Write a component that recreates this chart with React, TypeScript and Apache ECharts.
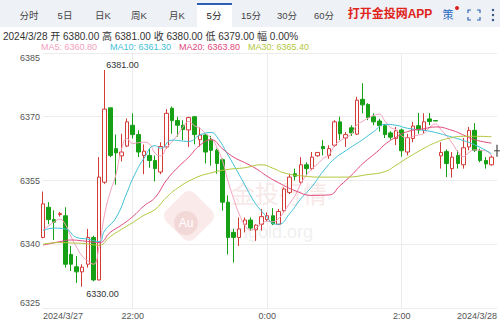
import React, { useEffect, useRef } from "react";
import * as echarts from "echarts";

// 5-minute slots from 2024/3/27 20:40 to 2024/3/28 03:25 (last slot still empty)
const timeSlots: string[] = [
  "20:40", "20:45", "20:50", "20:55",
  "21:00", "21:05", "21:10", "21:15", "21:20", "21:25", "21:30", "21:35", "21:40", "21:45", "21:50", "21:55",
  "22:00", "22:05", "22:10", "22:15", "22:20", "22:25", "22:30", "22:35", "22:40", "22:45", "22:50", "22:55",
  "23:00", "23:05", "23:10", "23:15", "23:20", "23:25", "23:30", "23:35", "23:40", "23:45", "23:50", "23:55",
  "0:00", "0:05", "0:10", "0:15", "0:20", "0:25", "0:30", "0:35", "0:40", "0:45", "0:50", "0:55",
  "1:00", "1:05", "1:10", "1:15", "1:20", "1:25", "1:30", "1:35", "1:40", "1:45", "1:50", "1:55",
  "2:00", "2:05", "2:10", "2:15", "2:20", "2:25", "2:30", "2:35", "2:40", "2:45", "2:50", "2:55",
  "3:00", "3:05", "3:10", "3:15", "3:20", "3:25",
];

// Axis tick labels keyed by slot index
const xTickLabels: Record<number, string> = {
  0: "2024/3/27",
  16: "22:00",
  40: "0:00",
  64: "2:00",
  81: "2024/3/28",
};
const xGridSlots = [16, 40, 64];

const openPrices = [
  6341.6, 6348.7, 6345.8, 6347.0, 6346.7, 6337.6, 6334.7, 6333.5, 6335.3, 6341.6,
  6331.6, 6354.6, 6372.1, 6362.5, 6360.8, 6363.1, 6368.0, 6365.8, 6360.9, 6360.9,
  6359.7, 6357.0, 6362.9, 6372.0, 6369.1, 6368.0, 6366.9, 6370.0, 6364.6, 6365.7,
  6364.5, 6362.1, 6359.9, 6349.9, 6342.8, 6341.6, 6344.7, 6345.7, 6343.4, 6344.7,
  6345.8, 6346.7, 6344.7, 6347.9, 6352.2, 6356.6, 6354.6, 6358.7, 6357.8, 6360.8,
  6363.0, 6360.9, 6363.3, 6368.8, 6365.0, 6367.4, 6365.9, 6374.1, 6372.9, 6370.0,
  6369.0, 6367.9, 6366.2, 6364.9, 6366.9, 6361.7, 6364.9, 6367.9, 6366.8, 6369.5,
  6369.1, 6360.8, 6361.8, 6357.8, 6360.9, 6358.7, 6362.9, 6366.8, 6362.0, 6359.7,
  6358.7,
];
const closePrices = [
  6349.5, 6345.8, 6345.2, 6347.2, 6335.3, 6335.3, 6333.5, 6334.6, 6341.6, 6331.6,
  6355.8, 6371.8, 6360.9, 6361.5, 6361.7, 6368.8, 6365.8, 6361.7, 6361.9, 6359.7,
  6357.8, 6363.0, 6370.8, 6369.1, 6368.0, 6367.0, 6369.8, 6365.8, 6365.7, 6361.7,
  6362.1, 6359.0, 6349.9, 6341.6, 6341.6, 6343.6, 6345.7, 6343.8, 6344.5, 6346.5,
  6346.7, 6344.8, 6347.7, 6353.0, 6355.8, 6356.0, 6358.7, 6357.8, 6360.5, 6361.6,
  6362.5, 6362.5, 6368.8, 6366.0, 6365.8, 6366.2, 6373.9, 6372.8, 6369.8, 6368.8,
  6367.9, 6365.8, 6365.2, 6366.7, 6362.0, 6365.1, 6367.8, 6366.9, 6368.8, 6368.9,
  6369.0, 6361.6, 6359.0, 6360.5, 6359.0, 6362.7, 6366.8, 6362.1, 6359.7, 6358.9,
  6360.5,
];
const lowPrices = [
  6341.4, 6344.7, 6341.0, 6346.5, 6334.5, 6333.7, 6330.9, 6330.0, 6334.5, 6331.3,
  6331.5, 6354.2, 6360.5, 6354.0, 6359.5, 6362.9, 6364.9, 6360.5, 6356.5, 6358.0,
  6354.8, 6356.5, 6362.5, 6366.0, 6365.3, 6364.5, 6362.9, 6363.5, 6363.0, 6359.0,
  6358.5, 6356.6, 6347.9, 6337.6, 6335.7, 6339.6, 6342.8, 6343.2, 6340.8, 6343.2,
  6345.5, 6344.5, 6344.5, 6347.5, 6351.8, 6355.0, 6354.2, 6356.2, 6357.4, 6360.6,
  6360.9, 6360.1, 6362.9, 6364.5, 6362.9, 6365.5, 6365.7, 6370.8, 6369.2, 6368.0,
  6366.5, 6365.0, 6364.6, 6363.3, 6360.6, 6360.9, 6364.0, 6366.0, 6366.0, 6368.0,
  6369.0, 6357.8, 6355.8, 6355.7, 6357.8, 6357.8, 6362.1, 6361.7, 6359.3, 6357.8,
  6358.5,
];
const highPrices = [
  6352.4, 6349.9, 6348.0, 6347.6, 6348.7, 6339.6, 6337.2, 6335.3, 6343.6, 6342.0,
  6360.5, 6381.0, 6372.1, 6365.8, 6366.0, 6369.6, 6370.8, 6366.8, 6363.5, 6362.5,
  6360.9, 6364.0, 6371.8, 6372.4, 6370.0, 6369.2, 6370.0, 6370.2, 6367.5, 6366.0,
  6365.5, 6362.5, 6360.2, 6351.5, 6343.6, 6346.3, 6346.3, 6346.3, 6344.7, 6348.3,
  6347.5, 6348.5, 6348.3, 6353.4, 6356.6, 6357.8, 6360.5, 6359.3, 6361.7, 6361.7,
  6364.5, 6363.3, 6369.2, 6370.0, 6366.4, 6368.0, 6374.7, 6377.9, 6373.2, 6370.8,
  6369.5, 6368.3, 6366.6, 6367.6, 6367.2, 6366.0, 6368.8, 6370.9, 6370.8, 6370.9,
  6369.1, 6364.0, 6362.3, 6361.7, 6362.1, 6365.0, 6367.6, 6368.5, 6362.5, 6360.5,
  6360.9,
];

const ma5 = [
  6343.3, 6344.3, 6345.3, 6345.9, 6344.6, 6341.8, 6339.3, 6337.2, 6336.1, 6335.3,
  6339.4, 6347.1, 6352.3, 6356.3, 6362.3, 6364.9, 6363.7, 6363.9, 6364.0, 6363.6,
  6361.4, 6360.8, 6362.6, 6364.1, 6365.7, 6367.6, 6368.9, 6367.9, 6367.3, 6366.0,
  6365.0, 6362.9, 6359.7, 6354.9, 6350.8, 6347.1, 6344.5, 6343.3, 6343.8, 6344.8,
  6345.4, 6345.3, 6346.0, 6347.7, 6349.6, 6351.5, 6354.2, 6356.3, 6357.8, 6358.9,
  6360.2, 6361.0, 6363.2, 6364.3, 6365.1, 6365.9, 6368.1, 6368.9, 6369.7, 6370.3,
  6370.6, 6369.0, 6367.5, 6366.9, 6365.5, 6365.0, 6365.4, 6365.7, 6366.1, 6367.5,
  6368.3, 6367.0, 6365.5, 6363.8, 6361.8, 6360.6, 6361.6, 6362.2, 6362.1, 6362.0,
  6360.8,
];

// Slower averages, as [slot index, value]
const ma10: [number, number][] = [
  [0, 6343.2], [2, 6343.8], [4, 6343.6], [6, 6341.6], [8, 6341.2], [10, 6340.6],
  [11, 6343.2], [13, 6346.2], [15, 6352.2], [16, 6355.4], [18, 6360.2], [20, 6363.2],
  [21, 6362.6], [23, 6364.5], [26, 6364.2], [28, 6365.7], [30, 6366.3], [31, 6365.3],
  [33, 6361.0], [36, 6354.0], [37, 6351.5], [38, 6349.4], [39, 6347.8], [40, 6346.3],
  [41, 6344.9], [42, 6344.7], [44, 6347.2], [46, 6350.7], [48, 6353.6], [50, 6357.2],
  [52, 6360.1], [54, 6362.0], [57, 6364.6], [59, 6366.5], [61, 6368.2], [63, 6368.0],
  [65, 6367.3], [68, 6366.8], [70, 6366.3], [73, 6365.2], [75, 6364.4], [77, 6363.4],
  [79, 6362.1], [80, 6361.3],
];
const ma20: [number, number][] = [
  [0, 6339.8], [3, 6340.6], [5, 6341.0], [7, 6340.8], [10, 6340.4], [12, 6342.8],
  [14, 6344.5], [16, 6346.5], [18, 6349.0], [20, 6351.0], [22, 6355.0], [24, 6358.0],
  [26, 6360.5], [28, 6363.3], [30, 6364.6], [32, 6362.5], [34, 6360.5], [36, 6359.2],
  [38, 6357.8], [40, 6356.0], [42, 6354.5], [45, 6352.6], [48, 6351.5], [51, 6351.6],
  [53, 6353.8], [55, 6356.2], [57, 6358.9], [60, 6362.2], [61, 6363.5], [63, 6365.2],
  [65, 6366.5], [68, 6367.2], [70, 6367.6], [73, 6366.8], [75, 6365.7], [77, 6364.6],
  [80, 6363.8],
];
const ma30: [number, number][] = [
  [0, 6340.0], [3, 6340.4], [5, 6340.3], [7, 6340.2], [10, 6339.8], [12, 6341.8],
  [14, 6343.5], [16, 6345.1], [18, 6346.8], [20, 6348.2], [22, 6351.0], [24, 6353.2],
  [27, 6355.5], [30, 6356.8], [33, 6357.6], [36, 6358.0], [39, 6358.7], [41, 6357.9],
  [43, 6356.8], [46, 6356.1], [50, 6355.8], [54, 6355.8], [58, 6356.4], [61, 6357.1],
  [63, 6358.6], [65, 6360.3], [68, 6362.6], [70, 6363.9], [72, 6364.8], [75, 6365.4],
  [77, 6365.4], [80, 6365.3],
];

// Latest price cursor on the empty trailing slot
const cursorPoint: [number, number] = [81, 6362.0];

// Header quote for the last bar
const quoteDate = "2024/3/28";
const quoteOpen = "6380.00";
const quoteHigh = "6381.00";
const quoteClose = "6380.00";
const quoteLow = "6379.00";
const quoteChange = "0.00%";
const maLegend = [
  { name: "MA5", value: "6360.80" },
  { name: "MA10", value: "6361.30" },
  { name: "MA20", value: "6363.80" },
  { name: "MA30", value: "6365.40" },
];
const periodTabs = ["分时", "5日", "日K", "周K", "月K", "5分", "15分", "30分", "60分"];
const activeTab = "5分";

const FONT = "'Liberation Sans', Arial, 'Noto Sans CJK SC', sans-serif";
const UP = "#d23b36";
const DOWN = "#16a016";
const MA_COLORS = ["#f2a0bd", "#3fc0d6", "#e0487c", "#b4c63c"];

export default function App() {
  const ref = useRef<HTMLDivElement>(null);

  useEffect(() => {
    if (!ref.current) return;
    const chart = echarts.init(ref.current, null, { renderer: "svg" });

    const candles = openPrices.map((o, i) => [o, closePrices[i], lowPrices[i], highPrices[i]]);

    const tabX = [29, 65, 103, 139, 177, 214, 251, 287, 324];
    const legendX = [41, 110, 179, 248];

    const header: any[] = [
      { type: "rect", shape: { x: 0, y: 0, width: 500, height: 27 }, style: { fill: "#eef1f6" }, silent: true },
      { type: "rect", shape: { x: 197, y: 3, width: 35, height: 24 }, style: { fill: "#ffffff" }, silent: true },
      { type: "rect", shape: { x: 197, y: 3, width: 35, height: 2 }, style: { fill: "#2c5fb3" }, silent: true },
      ...periodTabs.map((t, i) => ({
        type: "text",
        x: tabX[i],
        y: 15,
        style: {
          text: t,
          align: "center",
          verticalAlign: "middle",
          fontSize: 9.5,
          fontFamily: FONT,
          fill: t === activeTab ? "#222" : "#444",
        },
      })),
      {
        type: "text",
        x: 390,
        y: 14,
        style: { text: "打开金投网APP", align: "center", verticalAlign: "middle", fontSize: 12, fontWeight: "bold", fontFamily: FONT, fill: "#e0241b" },
      },
      {
        type: "text",
        x: 448,
        y: 15,
        style: { text: "策", align: "center", verticalAlign: "middle", fontSize: 11, fontFamily: FONT, fill: "#2b6cc4" },
      },
      { type: "circle", shape: { cx: 457, cy: 8, r: 2 }, style: { fill: "#e02020" } },
      { type: "polyline", shape: { points: [[468, 13], [468, 10], [471, 10]] }, style: { stroke: "#2f63b8", lineWidth: 1.2, fill: "none" } },
      { type: "polyline", shape: { points: [[477, 10], [480, 10], [480, 13]] }, style: { stroke: "#2f63b8", lineWidth: 1.2, fill: "none" } },
      { type: "polyline", shape: { points: [[468, 17], [468, 20], [471, 20]] }, style: { stroke: "#2f63b8", lineWidth: 1.2, fill: "none" } },
      { type: "polyline", shape: { points: [[477, 20], [480, 20], [480, 17]] }, style: { stroke: "#2f63b8", lineWidth: 1.2, fill: "none" } },
      { type: "circle", shape: { cx: 493, cy: 10, r: 1.2 }, style: { fill: "#2f4f7f" } },
      { type: "circle", shape: { cx: 493, cy: 15, r: 1.2 }, style: { fill: "#2f4f7f" } },
      { type: "circle", shape: { cx: 493, cy: 20, r: 1.2 }, style: { fill: "#2f4f7f" } },
      {
        type: "text",
        x: 3,
        y: 36,
        style: {
          text: `${quoteDate} 开 ${quoteOpen} 高 ${quoteHigh} 收 ${quoteClose} 低 ${quoteLow} 幅 ${quoteChange}`,
          verticalAlign: "middle",
          fontSize: 10,
          fontFamily: FONT,
          fill: "#333",
        },
      },
      ...maLegend.map((m, i) => ({
        type: "text",
        x: legendX[i],
        y: 47,
        style: {
          text: `${m.name}: ${m.value}`,
          verticalAlign: "middle",
          fontSize: 9,
          fontFamily: FONT,
          fill: MA_COLORS[i],
        },
      })),
    ];

    // faint site watermark behind the plot
    const watermark: any = {
      type: "group",
      z: -10,
      silent: true,
      children: [
        {
          type: "rect",
          x: 189,
          y: 216,
          rotation: Math.PI / 4,
          shape: { x: -20, y: -20, width: 40, height: 40, r: 8 },
          style: { fill: "#faeaea" },
        },
        { type: "circle", shape: { cx: 186, cy: 223, r: 12 }, style: { fill: "#f3d8d8" } },
        {
          type: "text",
          x: 186,
          y: 223,
          style: { text: "Au", align: "center", verticalAlign: "middle", fontSize: 12, fontFamily: FONT, fill: "#ffffff" },
        },
        {
          type: "text",
          x: 231,
          y: 194,
          style: { text: "金投行情", verticalAlign: "middle", fontSize: 24, fontFamily: FONT, fill: "#f8e9e9" },
        },
        {
          type: "text",
          x: 229,
          y: 232,
          style: { text: "cngold.org", verticalAlign: "middle", fontSize: 18, fontFamily: FONT, fill: "#f0f0f0" },
        },
      ],
    };

    chart.setOption({
      animation: false,
      backgroundColor: "#ffffff",
      textStyle: { fontFamily: FONT },
      grid: { left: 43, right: 3, top: 53, bottom: 12 },
      graphic: [watermark, ...header],
      xAxis: {
        type: "category",
        data: timeSlots,
        boundaryGap: false,
        axisLine: { show: false },
        axisTick: { show: false },
        axisLabel: {
          interval: (i: number) => xTickLabels[i] !== undefined,
          formatter: (_v: string, i: number) => xTickLabels[i] ?? "",
          alignMinLabel: "left",
          alignMaxLabel: "right",
          fontSize: 9,
          color: "#555",
          margin: 3,
          fontFamily: FONT,
        },
        splitLine: {
          show: true,
          interval: (i: number) => xGridSlots.includes(i),
          lineStyle: { color: "#ececec", width: 1 },
        },
      },
      yAxis: {
        type: "value",
        min: 6325,
        max: 6385,
        interval: 15,
        axisLine: { show: false },
        axisTick: { show: false },
        axisLabel: {
          formatter: (v: number) => String(v),
          fontSize: 9,
          color: "#555",
          margin: 3,
          fontFamily: FONT,
          verticalAlignMinLabel: "bottom",
          verticalAlignMaxLabel: "top",
        },
        splitLine: { lineStyle: { color: "#ececec", width: 1 } },
      },
      series: [
        {
          type: "candlestick",
          data: candles,
          barWidth: 4,
          clip: false,
          itemStyle: {
            color: "#ffffff",
            color0: DOWN,
            borderColor: UP,
            borderColor0: DOWN,
            borderWidth: 1,
          },
          markPoint: {
            symbol: "circle",
            symbolSize: 0,
            label: {
              show: true,
              formatter: (p: any) => Number(p.value).toFixed(2),
              color: "#333",
              fontSize: 9,
              fontFamily: FONT,
            },
            data: [
              { type: "max", valueDim: "highest", label: { position: "right", offset: [-3.5, -5] } },
              { type: "min", valueDim: "lowest", label: { position: "right", offset: [-1, 7.5] } },
            ],
          },
        },
        {
          type: "line",
          data: ma5,
          symbol: "none",
          smooth: true,
          lineStyle: { color: MA_COLORS[0], width: 1 },
        },
        {
          type: "line",
          data: ma10,
          symbol: "none",
          smooth: true,
          lineStyle: { color: MA_COLORS[1], width: 1 },
        },
        {
          type: "line",
          data: ma20,
          symbol: "none",
          smooth: true,
          lineStyle: { color: MA_COLORS[2], width: 1 },
        },
        {
          type: "line",
          data: ma30,
          symbol: "none",
          smooth: true,
          lineStyle: { color: MA_COLORS[3], width: 1 },
        },
        {
          type: "scatter",
          clip: false,
          data: [
            { value: cursorPoint, symbol: "rect", symbolSize: [1.5, 12] },
            { value: cursorPoint, symbol: "rect", symbolSize: [6, 1.2] },
          ],
          itemStyle: { color: "#444" },
        },
      ],
    });

    return () => chart.dispose();
  }, []);

  return (
    <div
      ref={ref}
      style={{ position: "fixed", left: 0, top: 0, width: 500, height: 320, background: "#fff" }}
    />
  );
}
